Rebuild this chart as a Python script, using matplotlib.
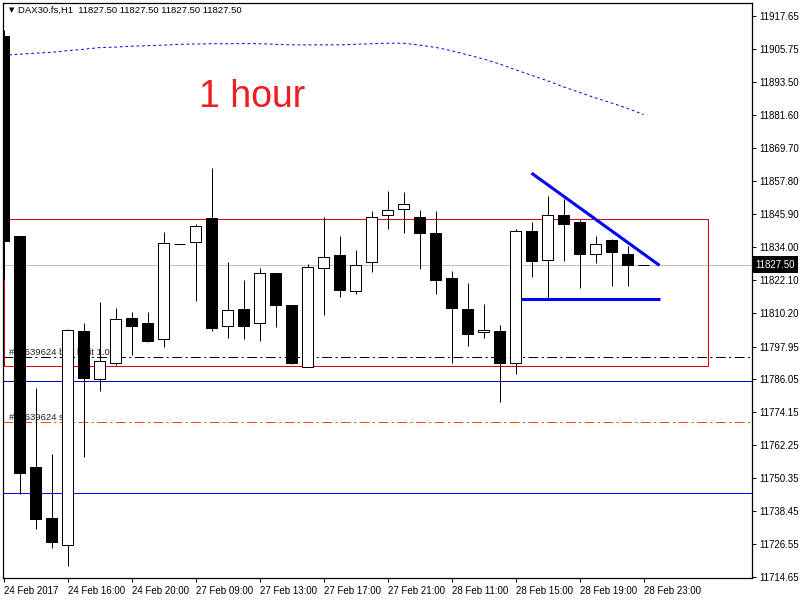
import matplotlib
matplotlib.use("Agg")
import matplotlib.pyplot as plt
import numpy as np

# H1 candles, DAX30.fs, 24 Feb 2017 12:00 .. 28 Feb 2017 23:00
opens = [11910.4, 11837.9, 11754.2, 11735.8, 11726.1, 11803.5, 11786.3, 11792.1, 11808.2, 11806.3,
         11800.8, 11835.0, 11835.6, 11844.3, 11805.2, 11811.4, 11806.3, 11824.4, 11813.1, 11790.7,
         11826.2, 11830.9, 11818.2, 11828.4, 11845.4, 11847.6, 11844.7, 11838.9, 11822.6, 11811.7,
         11803.3, 11803.7, 11792.1, 11839.7, 11829.1, 11845.4, 11843.0, 11831.6, 11836.4, 11831.6,
         11827.5]
highs = [11912.6, 11838.0, 11783.1, 11758.9, 11804.3, 11806.3, 11814.0, 11811.8, 11810.3, 11810.3,
         11839.4, 11835.0, 11842.3, 11862.5, 11828.7, 11822.0, 11826.3, 11824.4, 11813.1, 11827.7,
         11844.7, 11837.9, 11832.8, 11847.0, 11854.2, 11853.9, 11847.3, 11847.0, 11825.2, 11820.8,
         11813.3, 11805.6, 11840.3, 11843.0, 11852.4, 11851.3, 11843.6, 11837.9, 11836.7, 11834.3,
         11827.5]
lows = [11822.0, 11744.7, 11732.0, 11724.9, 11718.4, 11757.9, 11781.8, 11791.1, 11794.8, 11799.6,
        11797.6, 11835.0, 11814.4, 11803.6, 11801.2, 11800.7, 11800.0, 11805.0, 11791.5, 11790.7,
        11809.3, 11815.9, 11817.0, 11825.0, 11840.5, 11839.1, 11826.0, 11817.0, 11791.9, 11798.1,
        11801.0, 11777.7, 11787.9, 11823.2, 11815.2, 11828.9, 11819.2, 11828.2, 11819.9, 11819.9,
        11827.5]
closes = [11836.1, 11752.3, 11735.7, 11727.1, 11803.8, 11786.5, 11792.8, 11808.0, 11805.4, 11800.0,
          11835.3, 11835.0, 11841.5, 11804.7, 11811.3, 11805.4, 11824.4, 11812.8, 11791.9, 11826.6,
          11830.2, 11818.4, 11827.6, 11844.7, 11847.2, 11849.4, 11839.1, 11822.0, 11811.9, 11802.6,
          11804.1, 11791.9, 11839.7, 11828.9, 11845.4, 11842.1, 11831.3, 11835.1, 11832.2, 11827.6,
          11827.5]

# moving average (blue dotted)
ma = [11903.3, 11903.7, 11904.1, 11904.4, 11905.0, 11905.5, 11906.1, 11906.3, 11906.6, 11906.8,
      11907.0, 11907.3, 11907.4, 11907.5, 11907.5, 11907.6, 11907.5, 11907.3, 11907.1, 11907.1,
      11907.1, 11907.1, 11907.3, 11907.5, 11907.7, 11907.7, 11907.0, 11906.2, 11905.0, 11903.5,
      11902.0, 11900.2, 11898.1, 11896.1, 11894.1, 11891.9, 11889.9, 11887.9, 11886.1, 11884.1,
      11881.9]

current_price = 11827.50
buy_limit = 11794.0
stop_loss = 11770.5
blue_level_1 = 11785.3
blue_level_2 = 11745.1

# rectangle (bar index / price)
rect_x = [0, 44]
rect_y = [11791.0, 11844.0]

# hand-drawn triangle lines
trend_x = [33.0, 41.0]
trend_y = [11860.7, 11827.3]
support_x = [32.35, 41.05]
support_y = [11815.0, 11815.0]

price_ticks = [11917.65, 11905.75, 11893.50, 11881.60, 11869.70, 11857.80, 11845.90, 11834.00,
               11822.10, 11810.20, 11797.95, 11786.05, 11774.15, 11762.25, 11750.35, 11738.45,
               11726.55, 11714.65]
time_ticks = [0, 4, 8, 12, 16, 20, 24, 28, 32, 36, 40]
time_labels = ["24 Feb 2017", "24 Feb 16:00", "24 Feb 20:00", "27 Feb 09:00", "27 Feb 13:00",
               "27 Feb 17:00", "27 Feb 21:00", "28 Feb 11:00", "28 Feb 15:00", "28 Feb 19:00",
               "28 Feb 23:00"]


def main():
    plt.rcParams['font.family'] = ['Liberation Sans', 'DejaVu Sans']
    plt.rcParams['lines.scale_dashes'] = False

    fig = plt.figure(figsize=(8, 6), dpi=100)
    ax = fig.add_axes([2.5/800, 22/600, 749.5/800, 575/600])

    x = np.arange(len(opens))
    o = np.array(opens)
    c = np.array(closes)
    up = c >= o

    px = 0.72  # one pixel in points
    dashdot = (0, (7, 2.5, 1.5, 2.5))

    # order / level lines (under the candles)
    ax.axhline(current_price, color='#c0c0c0', lw=px, zorder=1)
    ax.axhline(buy_limit, color='black', lw=px, ls=dashdot, zorder=1)
    ax.axhline(stop_loss, color='#ff4500', lw=px, ls=dashdot, zorder=1)
    ax.axhline(blue_level_1, color='#0000cc', lw=px, zorder=1)
    ax.axhline(blue_level_2, color='#0000ff', lw=px, zorder=1)

    ax.add_patch(plt.Rectangle((rect_x[0], rect_y[0]), rect_x[1]-rect_x[0], rect_y[1]-rect_y[0],
                               fill=False, ec='#dd0000', lw=px, zorder=1))

    ytr = ax.get_yaxis_transform()
    ax.annotate("#45639624 buy limit 1.00", xy=(0.009, buy_limit), xycoords=ytr,
                xytext=(0, 1.5), textcoords='offset points', va='baseline',
                fontsize=6.8, color='#202020', zorder=2)
    ax.annotate("#45639624 sl", xy=(0.009, stop_loss), xycoords=ytr,
                xytext=(0, 1.5), textcoords='offset points', va='baseline',
                fontsize=6.8, color='#202020', zorder=2)

    ax.plot(x, ma, color='#0000ff', lw=px, ls=(0, (2, 2)), zorder=3)

    # candles
    ax.vlines(x, lows, highs, color='black', lw=px, zorder=5)
    ax.bar(x, np.abs(c - o), bottom=np.minimum(o, c), width=0.66,
           color=np.where(up, 'white', 'black'), edgecolor='black', linewidth=px, zorder=6)

    ax.plot(trend_x, trend_y, color='#0000ff', lw=2.2, zorder=7, solid_capstyle='butt')
    ax.plot(support_x, support_y, color='#0000ff', lw=2.2, zorder=7, solid_capstyle='butt')

    ax.set_xlim(-0.0625, 46.78)
    ax.set_ylim(11714.18, 11922.25)

    ax.yaxis.tick_right()
    ax.set_yticks(price_ticks)
    ax.set_yticklabels([f"{v:.2f}" for v in price_ticks])
    ax.set_xticks(time_ticks)
    ax.set_xticklabels(time_labels, ha='left')
    ax.tick_params(axis='both', direction='out', length=3, width=px, labelsize=7,
                   pad=2, colors='black')
    ax.tick_params(axis='x', pad=3)
    for s in ax.spines.values():
        s.set_color('black')
        s.set_linewidth(0.9)

    ax.text(1.0047, current_price, f"{current_price:.2f}", transform=ytr, ha='left',
            va='center', fontsize=7, color='white', clip_on=False, zorder=10,
            bbox=dict(boxstyle='square,pad=0.35', fc='black', ec='none'))

    fig.text(9/800, 1 - 10/600, "\u25bc", family='DejaVu Sans', fontsize=5,
             ha='left', va='center', color='black')
    fig.text(18/800, 1 - 10/600, "DAX30.fs,H1  11827.50 11827.50 11827.50 11827.50",
             fontsize=6.8, ha='left', va='center', color='black')
    fig.text(199/800, 1 - 107/600, "1 hour", fontsize=27, color='#ee1c24',
             ha='left', va='baseline')

    fig.savefig("out.png", dpi=100, facecolor='white')


if __name__ == '__main__':
    main()
